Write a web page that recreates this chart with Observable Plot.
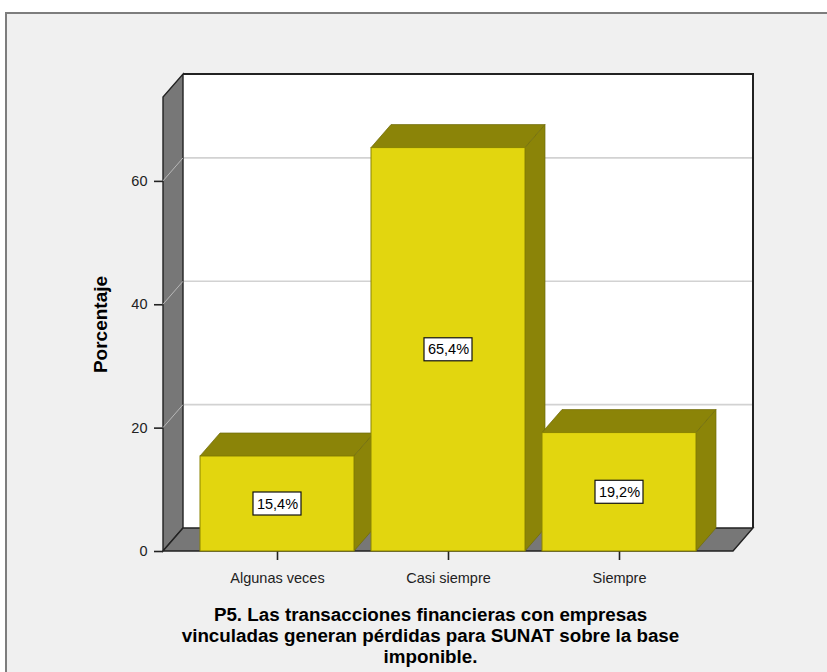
<!DOCTYPE html>
<html><head><meta charset="utf-8">
<script src="https://cdn.jsdelivr.net/npm/d3@7"></script>
<script src="https://cdn.jsdelivr.net/npm/@observablehq/plot@0.6"></script>
<style>
html,body{margin:0;padding:0;background:#fff;}
#wrap{position:relative;width:827px;height:672px;overflow:hidden;background:#fff;}
#panel{position:absolute;left:5px;top:12px;width:840px;height:680px;background:#f0f0f0;border-top:2px solid #7d7d7d;border-left:2px solid #7d7d7d;}
#chart{position:absolute;left:0;top:0;}
#chart svg{background:transparent !important;}
#chart svg g[aria-label^="y-axis"] line, #chart svg g[aria-label^="y-axis"] path,
#chart svg g[aria-label^="x-axis"] line, #chart svg g[aria-label^="x-axis"] path{stroke-width:1.6;}
</style></head><body>
<div id="wrap"><div id="panel"></div><div id="chart"></div></div>
<script>
const categories = ["Algunas veces", "Casi siempre", "Siempre"];
const percentages = [15.4, 65.4, 19.2];
const yTicks = [0, 20, 40, 60];
const yMax = 73.6;
const yLabel = "Porcentaje";
const xTitle = "P5. Las transacciones financieras con empresas\nvinculadas generan pérdidas para SUNAT sobre la base\nimponible.";

const data = categories.map((c, i) => ({
  category: c,
  value: percentages[i],
  label: percentages[i].toFixed(1).replace(".", ",") + "%"
}));

const DX = 20, DY = 23;
const FRONT = "#e2d60f", SHADE = "#8b8408";

function walls(index, scales, values, dims) {
  const {width, marginLeft, marginRight} = dims;
  const x0 = marginLeft, x1 = width - marginRight;
  const yTop = scales.y(yMax), y0 = scales.y(0);
  const g = d3.create("svg:g");
  g.append("rect").attr("x", x0 + DX).attr("y", yTop - DY)
    .attr("width", x1 - x0).attr("height", y0 - yTop).attr("fill", "#fff");
  for (const t of yTicks.filter(t => t > 0)) {
    const yy = scales.y(t);
    g.append("line").attr("x1", x0 + DX).attr("x2", x1 + DX)
      .attr("y1", yy - DY).attr("y2", yy - DY)
      .attr("stroke", "#d2d2d2").attr("stroke-width", 1.6);
  }
  g.append("path").attr("d", `M${x0 + DX},${yTop - DY}H${x1 + DX}V${y0 - DY}`)
    .attr("fill", "none").attr("stroke", "#222").attr("stroke-width", 2);
  g.append("path").attr("d", `M${x0},${y0}L${x0},${yTop}L${x0 + DX},${yTop - DY}L${x0 + DX},${y0 - DY}Z`)
    .attr("fill", "#777").attr("stroke", "#222").attr("stroke-width", 1.4);
  for (const t of yTicks.filter(t => t > 0)) {
    const yy = scales.y(t);
    g.append("line").attr("x1", x0).attr("x2", x0 + DX)
      .attr("y1", yy).attr("y2", yy - DY)
      .attr("stroke", "#b8b8b8").attr("stroke-width", 1);
  }
  g.append("path").attr("d", `M${x0},${y0}L${x0 + DX},${y0 - DY}H${x1 + DX}L${x1},${y0}Z`)
    .attr("fill", "#777").attr("stroke", "#222").attr("stroke-width", 1.4);
  return g.node();
}

function barFaces(index, scales) {
  const g = d3.create("svg:g");
  const bw = scales.x.bandwidth();
  for (const d of data) {
    const xa = scales.x(d.category), xb = xa + bw;
    const yt = scales.y(d.value), yb = scales.y(0);
    g.append("path").attr("d", `M${xa},${yt}L${xa + DX},${yt - DY}H${xb + DX}L${xb},${yt}Z`)
      .attr("fill", SHADE).attr("stroke", "#6e6a08").attr("stroke-width", 0.7);
    g.append("path").attr("d", `M${xb},${yt}L${xb + DX},${yt - DY}V${yb - DY}L${xb},${yb}Z`)
      .attr("fill", SHADE).attr("stroke", "#6e6a08").attr("stroke-width", 0.7);
  }
  return g.node();
}

function labelBoxes(index, scales) {
  const g = d3.create("svg:g");
  const bw = scales.x.bandwidth();
  for (const d of data) {
    const cx = scales.x(d.category) + bw / 2, cy = scales.y(d.value / 2);
    const w = 8.2 * d.label.length + 7, h = 23;
    g.append("rect").attr("x", cx - w / 2).attr("y", cy - h / 2)
      .attr("width", w).attr("height", h)
      .attr("fill", "#fff").attr("stroke", "#111").attr("stroke-width", 1.2);
  }
  return g.node();
}

const chart = Plot.plot({
  width: 827,
  height: 672,
  marginLeft: 163,
  marginRight: 94,
  marginTop: 97,
  marginBottom: 121,
  style: {background: "transparent", fontFamily: "'Liberation Sans', Arial, sans-serif", fontSize: "14.5px", color: "#222"},
  x: {type: "band", domain: categories, paddingInner: 0.1, paddingOuter: 0.215, tickSize: 9, tickPadding: 12, label: null},
  y: {domain: [0, yMax], ticks: yTicks, tickSize: 9, tickPadding: 7, label: null, tickFormat: d => String(d)},
  marks: [
    walls,
    barFaces,
    Plot.barY(data, {x: "category", y: "value", fill: FRONT, stroke: "#8a8300", strokeWidth: 1}),
    labelBoxes,
    Plot.text(data, {x: "category", y: d => d.value / 2, text: "label", fontSize: 14.5, fill: "#000"}),
    Plot.text([yLabel], {frameAnchor: "left", text: d => d, rotate: -90, dx: -63, textAnchor: "middle", fontSize: 19, fontWeight: "bold", fill: "#000"}),
    Plot.text([xTitle], {frameAnchor: "bottom", text: d => d, dx: -18, dy: 84, textAnchor: "middle", lineAnchor: "middle", lineHeight: 1.1, fontSize: 18.8, fontWeight: "bold", fill: "#000"})
  ]
});
document.getElementById("chart").appendChild(chart);
</script>
</body></html>
